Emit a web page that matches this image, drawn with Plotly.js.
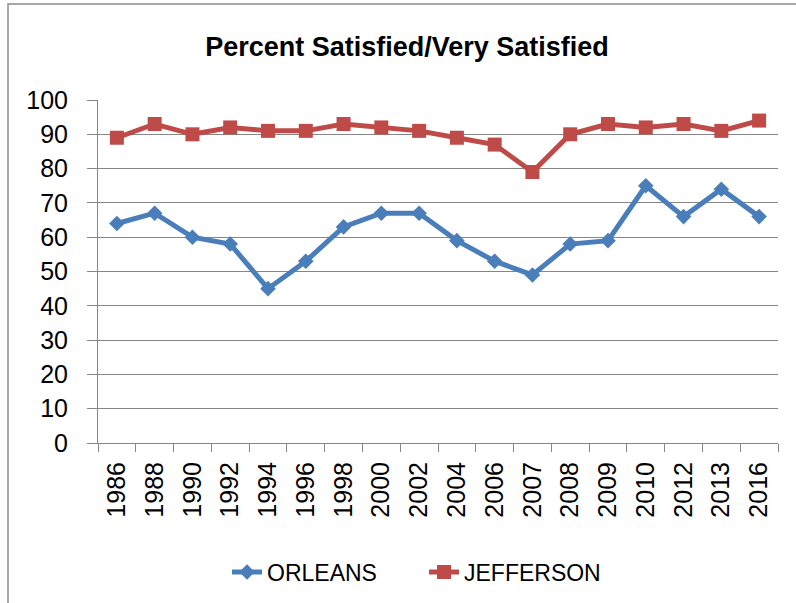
<!DOCTYPE html>
<html>
<head>
<meta charset="utf-8">
<script src="https://cdn.plot.ly/plotly-3.0.1.min.js"></script>
<style>
  html, body { margin: 0; padding: 0; background: #ffffff; }
  #chart { width: 796px; height: 603px; }
</style>
</head>
<body>
<div id="chart"></div>
<script>
const years = ["1986","1988","1990","1992","1994","1996","1998","2000","2002","2004","2006","2007","2008","2009","2010","2012","2013","2016"];
const orleans = [64, 67, 60, 58, 45, 53, 63, 67, 67, 59, 53, 49, 58, 59, 75, 66, 74, 66];
const jefferson = [89, 93, 90, 92, 91, 91, 93, 92, 91, 89, 87, 79, 90, 93, 92, 93, 91, 94];
const yTicks = [0, 10, 20, 30, 40, 50, 60, 70, 80, 90, 100];

const fontFam = "Liberation Sans, Arial, sans-serif";

const traces = [
  {
    x: years, y: orleans, name: "ORLEANS", type: "scatter", mode: "lines+markers",
    line: { color: "#4A7EBB", width: 5 },
    marker: { symbol: "diamond", size: 12, color: "#4A7EBB" }
  },
  {
    x: years, y: jefferson, name: "JEFFERSON", type: "scatter", mode: "lines+markers",
    line: { color: "#BE4B48", width: 5 },
    marker: { symbol: "square", size: 14, color: "#BE4B48" }
  }
];

const layout = {
  width: 796, height: 603,
  margin: { l: 98, r: 18, t: 100, b: 160 },
  paper_bgcolor: "#ffffff", plot_bgcolor: "#ffffff",
  font: { family: fontFam, color: "#000000", size: 25 },
  title: {
    text: "<b>Percent Satisfied/Very Satisfied</b>",
    font: { family: fontFam, size: 27, color: "#000000" },
    xref: "container", x: 407 / 796, xanchor: "center",
    yref: "container", y: 1 - 47 / 603, yanchor: "middle"
  },
  xaxis: {
    type: "category",
    categoryorder: "array", categoryarray: years,
    range: [-0.5, years.length - 0.5],
    autorange: false,
    tickangle: -90,
    tickson: "boundaries",
    ticks: "outside", ticklen: 8, tickcolor: "#868686", tickwidth: 1,
    showline: true, linecolor: "#868686", linewidth: 1,
    showgrid: false, zeroline: false,
    tickfont: { family: fontFam, size: 25, color: "#000000" },
    ticklabelstandoff: 8,
    fixedrange: true
  },
  yaxis: {
    range: [0, 100],
    autorange: false,
    tickvals: yTicks,
    ticktext: yTicks.map(String),
    ticks: "outside", ticklen: 10, tickcolor: "#868686", tickwidth: 1,
    showline: true, linecolor: "#868686", linewidth: 1,
    showgrid: true, gridcolor: "#868686", gridwidth: 1,
    zeroline: false,
    tickfont: { family: fontFam, size: 25, color: "#000000" },
    ticklabelstandoff: 14,
    fixedrange: true
  },
  showlegend: true,
  legend: {
    orientation: "h",
    xref: "container", x: 424 / 796, xanchor: "center",
    yref: "container", y: 1 - 572 / 603, yanchor: "middle",
    font: { family: fontFam, size: 23, color: "#000000" },
    itemwidth: 30,
    entrywidth: 152,
    entrywidthmode: "pixels",
    bgcolor: "rgba(0,0,0,0)"
  },
  shapes: [
    {
      type: "rect", xref: "paper", yref: "paper",
      x0: (8 - 98) / 680, x1: 2, y0: -2, y1: (443 - 4) / 343,
      line: { color: "#8C8C8C", width: 1.5 }, fillcolor: "rgba(0,0,0,0)",
      layer: "below"
    }
  ]
};

Plotly.newPlot("chart", traces, layout, { displayModeBar: false, staticPlot: true });
</script>
</body>
</html>
